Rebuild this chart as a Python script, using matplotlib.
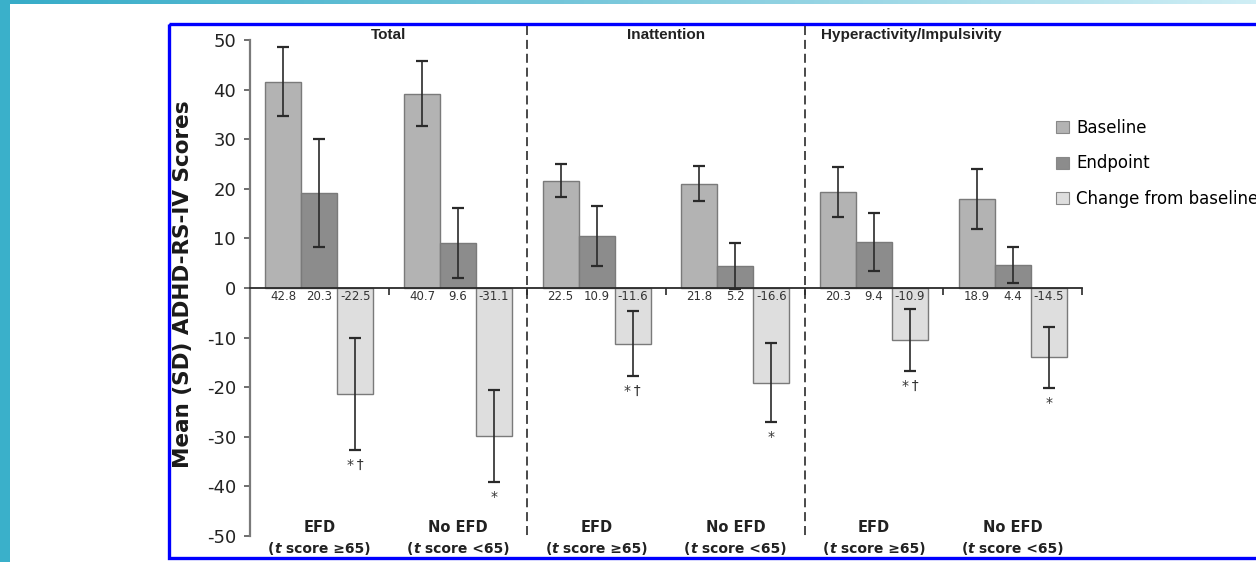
import matplotlib
matplotlib.use("Agg")
import matplotlib.pyplot as plt
import numpy as np
from matplotlib.patches import Rectangle, Patch
from matplotlib.offsetbox import TextArea, HPacker, AnnotationBbox
from matplotlib.colors import LinearSegmentedColormap

plt.rcParams['lines.scale_dashes'] = False
plt.rcParams['axes.unicode_minus'] = False

# ---------------- data ----------------
sections = ["Total", "Inattention", "Hyperactivity/Impulsivity"]
group_names = ["EFD", "No EFD", "EFD", "No EFD", "EFD", "No EFD"]
group_sub = ["score \u226565)", "score <65)", "score \u226565)", "score <65)", "score \u226565)", "score <65)"]

baseline = [41.6, 39.2, 21.6, 21.0, 19.4, 17.9]
baseline_sd = [6.9, 6.6, 3.3, 3.5, 5.0, 6.0]
endpoint = [19.2, 9.1, 10.5, 4.4, 9.3, 4.6]
endpoint_sd = [10.9, 7.0, 6.0, 4.6, 5.8, 3.6]
change = [-21.4, -29.8, -11.2, -19.1, -10.5, -14.0]
change_sd = [11.3, 9.3, 6.5, 8.0, 6.2, 6.2]

baseline_labels = ["42.8", "40.7", "22.5", "21.8", "20.3", "18.9"]
endpoint_labels = ["20.3", "9.6", "10.9", "5.2", "9.4", "4.4"]
change_labels = ["-22.5", "-31.1", "-11.6", "-16.6", "-10.9", "-14.5"]
sig_marks = ["*\u2009\u2020", "*", "*\u2009\u2020", "*", "*\u2009\u2020", "*"]

series_names = ["Baseline", "Endpoint", "Change from baseline"]
colors = ["#b3b3b3", "#8c8c8c", "#dedede"]
edge = "#7a7a7a"
ink = "#2a2a2a"

# ---------------- figure ----------------
W, H = 1256, 562
fig = plt.figure(figsize=(W / 100, H / 100), dpi=100)

# background decorations (slide frame)
bg = fig.add_axes([0, 0, 1, 1], zorder=-5)
bg.set_xlim(0, W)
bg.set_ylim(H, 0)
bg.axis("off")
grad = np.linspace(0, 1, 256)[None, :]
cmap = LinearSegmentedColormap.from_list("g", ["#36acc8", "#7cc9dc", "#cfeef5"])
bg.imshow(grad, extent=[0, W, 4.5, 0], aspect="auto", cmap=cmap)
bg.add_patch(Rectangle((0, 0), 10, H, color="#3ab0ca", lw=0))
bg.add_patch(Rectangle((168.5, 23.5), W, 534, fill=False, edgecolor="#0000ff", lw=2.4))

ax = fig.add_axes([250 / W, 1 - 536 / H, (1082 - 250) / W, (536 - 40) / H])
ax.set_xlim(-0.5, 5.5)
ax.set_ylim(-50, 50)
ax.patch.set_alpha(0)

x = np.arange(len(baseline))
w = 0.26
vals = [baseline, endpoint, change]
sds = [baseline_sd, endpoint_sd, change_sd]
for k in range(3):
    ax.bar(x + (k - 1) * w, vals[k], width=w, color=colors[k], edgecolor=edge,
           linewidth=1.0, zorder=2)
    ax.errorbar(x + (k - 1) * w, vals[k], yerr=sds[k], fmt="none", ecolor=ink,
                elinewidth=1.2, capsize=4, capthick=1.6, zorder=3)

# value labels under the zero line
for k, labs in enumerate([baseline_labels, endpoint_labels, change_labels]):
    for i, s in enumerate(labs):
        ax.text(x[i] + (k - 1) * w, -1.7, s, ha="center", va="center",
                fontsize=8.5, color="#333333", family="DejaVu Sans", zorder=4)

# significance marks
for i, m in enumerate(sig_marks):
    ax.text(x[i] + w, change[i] - change_sd[i] - 3.0, m, ha="center", va="center",
            fontsize=10, color="#333333", family="DejaVu Sans", zorder=4)

# dashed section dividers
for xd in [1.5, 3.5]:
    ax.plot([xd, xd], [52.8, -50.6], color=ink, lw=1.2, dashes=(6.5, 3.5),
            clip_on=False, zorder=1)

# section titles
title_x = [0.5, 2.5, 4.27]
for tx, t in zip(title_x, sections):
    ax.text(tx, 51.0, t, ha="center", va="center", fontsize=11,
            fontweight="bold", family="Liberation Sans", color="#222222", clip_on=False)

# group labels at bottom
for i, (g, sub) in enumerate(zip(group_names, group_sub)):
    ax.text(x[i], -48.2, g, ha="center", va="center", fontsize=10.5,
            fontweight="bold", family="DejaVu Sans", color="#222222", clip_on=False)
    parts = [TextArea("(", textprops=dict(fontsize=10, fontweight="bold", family="DejaVu Sans", color="#222222")),
             TextArea("t", textprops=dict(fontsize=10, fontweight="bold", style="italic", family="DejaVu Sans", color="#222222")),
             TextArea(" " + sub, textprops=dict(fontsize=10, fontweight="bold", family="DejaVu Sans", color="#222222"))]
    box = HPacker(children=parts, align="baseline", pad=0, sep=0)
    ab = AnnotationBbox(box, (x[i], -52.6), xycoords="data", frameon=False,
                        box_alignment=(0.5, 0.5), annotation_clip=False)
    ax.add_artist(ab)

# axes styling
for s in ["top", "right"]:
    ax.spines[s].set_visible(False)
ax.spines["left"].set_color("#7a7a7a")
ax.spines["left"].set_linewidth(1.6)
ax.spines["bottom"].set_position(("data", 0))
ax.spines["bottom"].set_color(ink)
ax.spines["bottom"].set_linewidth(1.3)
ax.spines["bottom"].set_zorder(5)
ax.set_yticks(np.arange(-50, 51, 10))
ax.tick_params(axis="y", direction="out", length=4, width=1.2, color="#555555",
               pad=6, labelsize=13, labelcolor="#222222")
ax.set_xticks([0.5, 1.5, 2.5, 3.5, 4.5, 5.5])
ax.tick_params(axis="x", direction="out", length=5, width=1.2, color=ink, labelbottom=False)

fig.text(183 / W, 1 - 284 / H, "Mean (SD) ADHD-RS-IV Scores", rotation=90,
         ha="center", va="center", fontsize=15.5, fontweight="bold",
         family="DejaVu Sans", color="#1a1a1a")

handles = [Patch(facecolor=c, edgecolor="#888888", lw=0.8) for c in colors]
fig.legend(handles, series_names, loc="upper left", bbox_to_anchor=(1056 / W, 1 - 119 / H),
           frameon=False, handlelength=0.75, handleheight=0.75,
           handletextpad=0.45, labelspacing=1.05, borderpad=0, borderaxespad=0,
           prop=dict(family="DejaVu Sans", size=12))

fig.savefig("out.png", dpi=100)
